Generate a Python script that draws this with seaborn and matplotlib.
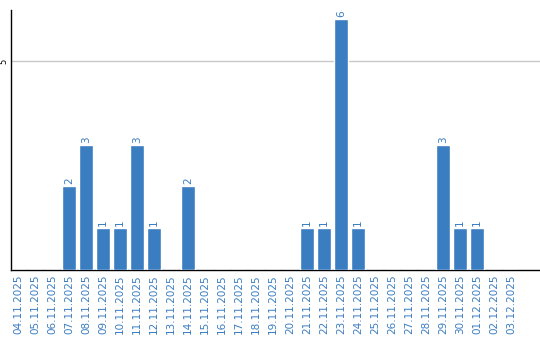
import matplotlib
matplotlib.use("Agg")
import matplotlib.pyplot as plt
import seaborn as sns
import pandas as pd

dates = ["04.11.2025", "05.11.2025", "06.11.2025", "07.11.2025", "08.11.2025",
         "09.11.2025", "10.11.2025", "11.11.2025", "12.11.2025", "13.11.2025",
         "14.11.2025", "15.11.2025", "16.11.2025", "17.11.2025", "18.11.2025",
         "19.11.2025", "20.11.2025", "21.11.2025", "22.11.2025", "23.11.2025",
         "24.11.2025", "25.11.2025", "26.11.2025", "27.11.2025", "28.11.2025",
         "29.11.2025", "30.11.2025", "01.12.2025", "02.12.2025", "03.12.2025"]
counts = [0, 0, 0, 2, 3, 1, 1, 3, 1, 0, 2, 0, 0, 0, 0, 0, 0, 1, 1, 6, 1,
          0, 0, 0, 0, 3, 1, 1, 0, 0]

df = pd.DataFrame({"date": dates, "count": counts})

sns.set_style("white")
plt.rcParams["font.family"] = ["DejaVu Sans"]

blue = "#3b7dc1"
fig = plt.figure(figsize=(5.4, 3.4), dpi=100)
ax = fig.add_axes([11 / 540, 70 / 340, 529 / 540, 260 / 340])
sns.barplot(data=df, x="date", y="count", color=blue, saturation=1,
            width=0.82, ax=ax, zorder=3)

ax.set_ylim(0, 6.22)
ax.set_xlim(-0.41, 30.7)
ax.set_yticks([5])
ax.set_yticklabels(["5"], rotation=90, va="center", fontsize=6, color="black")
ax.grid(axis="y", color="#c8c8c8", linewidth=1, zorder=0)
ax.set_xlabel("")
ax.set_ylabel("")
ax.tick_params(axis="x", labelrotation=90, labelsize=7.5, labelcolor=blue,
               length=0, pad=3)
ax.tick_params(axis="y", length=0, pad=2)
for s in ["top", "right"]:
    ax.spines[s].set_visible(False)
for s in ["left", "bottom"]:
    ax.spines[s].set_color("black")
    ax.spines[s].set_linewidth(1)

for i, v in enumerate(counts):
    if v > 0:
        ax.text(i, v + 0.05, str(v), rotation=90, ha="center", va="bottom",
                fontsize=7.5, color=blue)

fig.savefig("out.png", dpi=100)
